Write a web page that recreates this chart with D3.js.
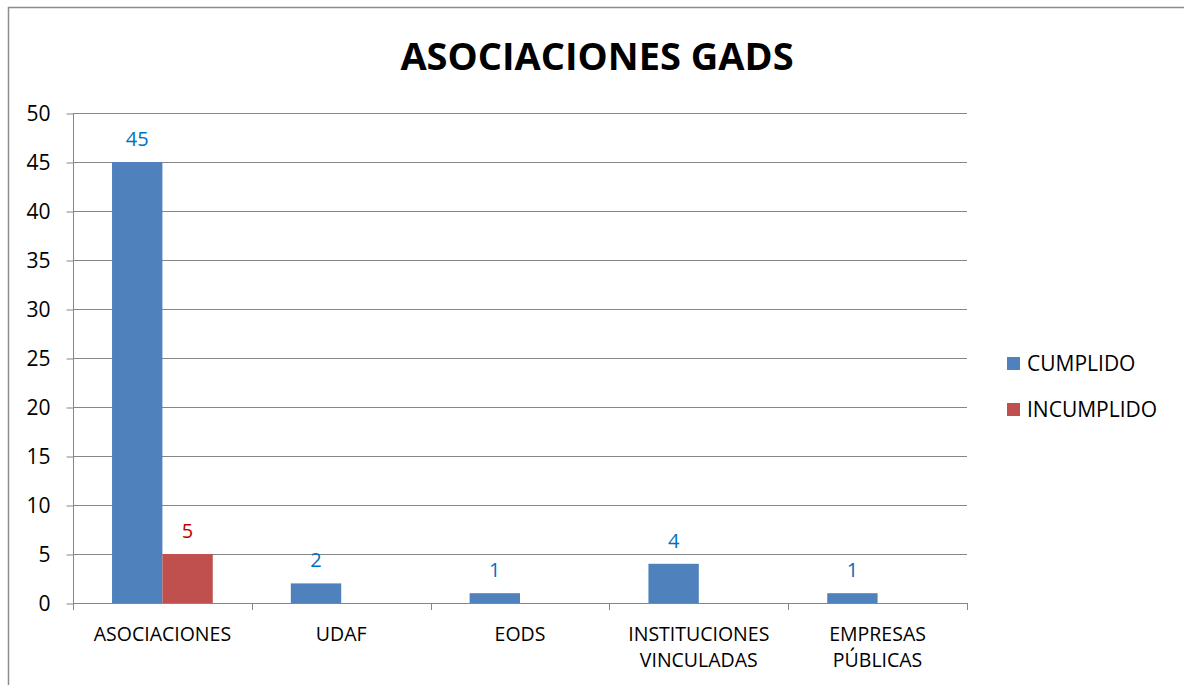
<!DOCTYPE html>
<html>
<head>
<meta charset="utf-8">
<script src="https://cdn.jsdelivr.net/npm/d3@7"></script>
<style>
  body { margin: 0; background: #fff; }
  svg { font-family: "Open Sans", sans-serif; }
</style>
</head>
<body>
<div class="chart"></div>
<script>
const categories = [["ASOCIACIONES"], ["UDAF"], ["EODS"], ["INSTITUCIONES", "VINCULADAS"], ["EMPRESAS", "PÚBLICAS"]];
const seriesNames = ["CUMPLIDO", "INCUMPLIDO"];
const cumplido = [45, 2, 1, 4, 1];
const incumplido = [5, 0, 0, 0, 0];
const yTicks = [0, 5, 10, 15, 20, 25, 30, 35, 40, 45, 50];

const barColors = ["#4F81BD", "#C0504D"];
const labelColors = ["#0070C0", "#C00000"];

const W = 1184, H = 685;
const plot = { left: 73, right: 967, top: 113, bottom: 603 };

const svg = d3.select(".chart").append("svg")
  .attr("width", W)
  .attr("height", H);

// outer chart border (right and bottom fall outside the picture)
svg.append("rect")
  .attr("x", 8.5).attr("y", 7.5)
  .attr("width", W + 20).attr("height", H + 20)
  .attr("fill", "none")
  .attr("stroke", "#8c8c8c")
  .attr("stroke-width", 1.5);

svg.append("text")
  .attr("x", 597).attr("y", 70)
  .attr("text-anchor", "middle")
  .attr("font-size", 38)
  .attr("font-weight", "bold")
  .text("ASOCIACIONES GADS");

const y = d3.scaleLinear().domain([0, 50]).range([plot.bottom, plot.top]);
const x0 = d3.scaleBand().domain(d3.range(categories.length)).range([plot.left, plot.right]);
const x1 = d3.scaleBand().domain(d3.range(seriesNames.length))
  .range([0, x0.bandwidth()]).paddingOuter(0.775).paddingInner(0);

// gridlines
svg.append("g").selectAll("line").data(yTicks.filter(d => d > 0)).enter().append("line")
  .attr("x1", plot.left).attr("x2", plot.right)
  .attr("y1", d => Math.round(y(d)) + 0.5).attr("y2", d => Math.round(y(d)) + 0.5)
  .attr("stroke", "#868686");

// y axis
const yAxis = svg.append("g")
  .attr("transform", "translate(" + (plot.left + 0.5) + ",0.5)")
  .call(d3.axisLeft(y).tickValues(yTicks).tickSize(7).tickPadding(16));
yAxis.select(".domain").attr("stroke", "#868686").attr("d", "M0," + plot.top + "V" + plot.bottom);
yAxis.selectAll(".tick line").attr("stroke", "#868686");
yAxis.selectAll(".tick text").attr("font-size", 21).attr("fill", "#000")
  .attr("font-family", "Open Sans, sans-serif");

// bars
const series = [cumplido, incumplido];
const groups = svg.append("g").selectAll("g").data(categories).enter().append("g")
  .attr("transform", (d, i) => "translate(" + x0(i) + ",0)");

groups.selectAll("rect")
  .data((d, i) => series.map((s, k) => ({ k: k, v: s[i] })))
  .enter().append("rect")
  .attr("x", d => x1(d.k))
  .attr("width", x1.bandwidth())
  .attr("y", d => y(d.v))
  .attr("height", d => plot.bottom - y(d.v))
  .attr("fill", d => barColors[d.k]);

groups.selectAll("text.val")
  .data((d, i) => series.map((s, k) => ({ k: k, v: s[i] })).filter(d => d.v > 0))
  .enter().append("text")
  .attr("class", "val")
  .attr("x", d => x1(d.k) + x1.bandwidth() / 2)
  .attr("y", d => y(d.v) - 16)
  .attr("text-anchor", "middle")
  .attr("font-size", 20)
  .attr("fill", d => labelColors[d.k])
  .text(d => d.v);

// x axis line and category ticks
svg.append("line")
  .attr("x1", plot.left).attr("x2", plot.right)
  .attr("y1", plot.bottom + 0.5).attr("y2", plot.bottom + 0.5)
  .attr("stroke", "#868686");
svg.append("g").selectAll("line").data(d3.range(categories.length + 1)).enter().append("line")
  .attr("x1", i => Math.round(plot.left + i * x0.bandwidth()) + 0.5)
  .attr("x2", i => Math.round(plot.left + i * x0.bandwidth()) + 0.5)
  .attr("y1", plot.bottom).attr("y2", plot.bottom + 7)
  .attr("stroke", "#868686");

const catLabels = svg.append("g").selectAll("text").data(categories).enter().append("text")
  .attr("text-anchor", "middle")
  .attr("font-size", 19.5)
  .attr("x", (d, i) => x0(i) + x0.bandwidth() / 2)
  .attr("y", 641);
catLabels.selectAll("tspan").data(d => d).enter().append("tspan")
  .attr("x", function () { return d3.select(this.parentNode).attr("x"); })
  .attr("dy", (d, j) => j === 0 ? 0 : 26)
  .text(d => d);

// legend
const legend = svg.append("g").selectAll("g").data(seriesNames).enter().append("g")
  .attr("transform", (d, i) => "translate(1007," + (357 + i * 46) + ")");
legend.append("rect").attr("width", 13).attr("height", 13).attr("fill", (d, i) => barColors[i]);
legend.append("text").attr("x", 20).attr("y", 14).attr("font-size", 21).text(d => d);
</script>
</body>
</html>
